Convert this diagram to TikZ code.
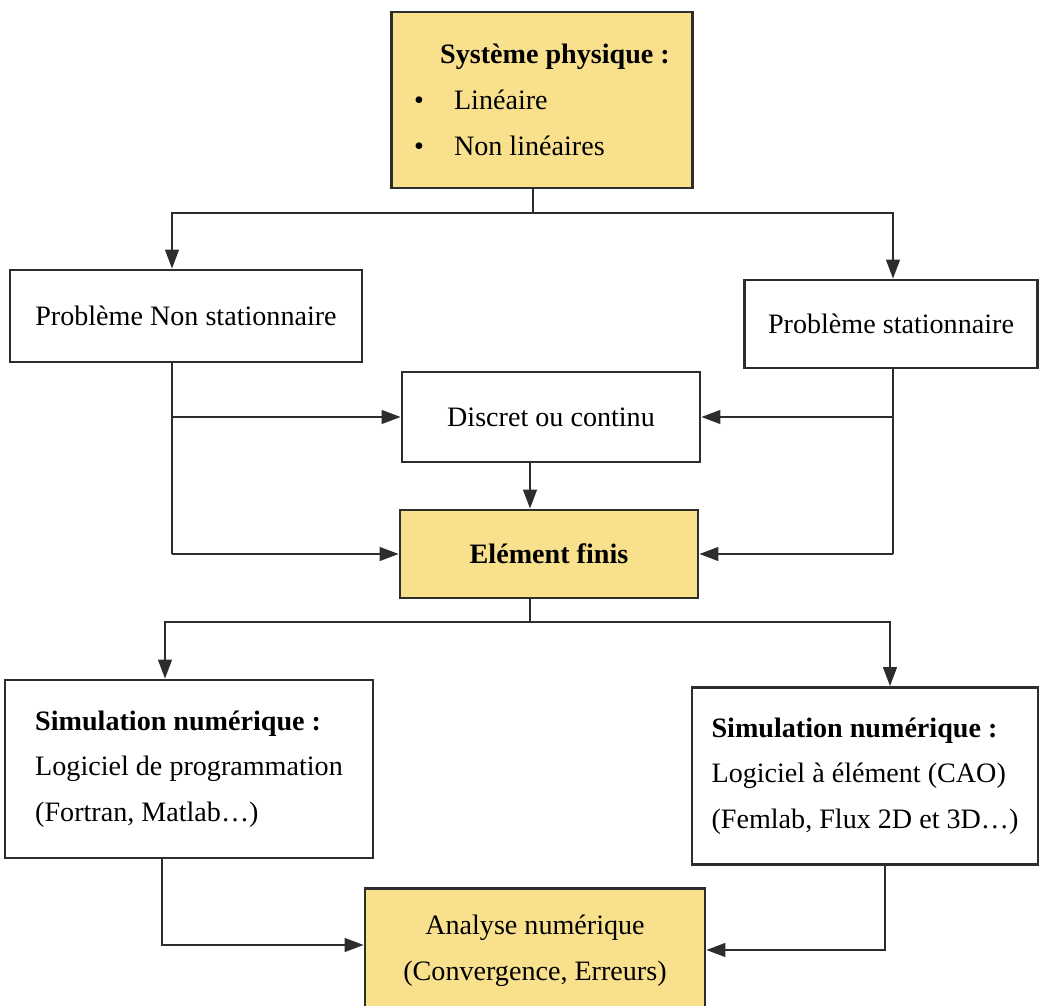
\documentclass[tikz,border=0pt]{standalone}
\usepackage{fontspec}
\setmainfont{Liberation Serif}
\usepackage{tikz}
\usetikzlibrary{arrows.meta}
\definecolor{boxyellow}{RGB}{248,224,140}
\definecolor{linegray}{RGB}{45,45,45}
\tikzstyle{process} = [rectangle, draw=linegray, line width=1.5pt, inner sep=0pt, align=left, font=\fontsize{16}{26}\selectfont]
\tikzstyle{keybox} = [process, fill=boxyellow]
\tikzstyle{link} = [draw=linegray, line width=1.5pt]
\tikzstyle{arrow} = [link, -{Triangle[length=0.38cm,width=0.27cm]}]

\begin{document}
\begin{tikzpicture}[x=0.02cm, y=-0.02cm]
            \useasboundingbox (0,0) rectangle (1042,1006);

            \node (systeme) [keybox, minimum width=6.02cm, minimum height=3.52cm] at (542,100) {\hspace*{0.52cm}\textbf{Système physique :}\\ \textbullet\hspace{0.6cm}Linéaire\\ \textbullet\hspace{0.6cm}Non linéaires};
            \node (nonstat) [process, minimum width=7.04cm, minimum height=1.84cm] at (186,316) {Problème Non stationnaire};
            \node (stat) [process, minimum width=5.86cm, minimum height=1.76cm] at (891,324) {Problème stationnaire};
            \node (discret) [process, minimum width=5.96cm, minimum height=1.8cm] at (551,417) {Discret ou continu};
            \node (finis) [keybox, minimum width=5.96cm, minimum height=1.76cm] at (549,554) {\textbf{Elément finis}};
            \node (simprog) [process, minimum width=7.36cm, minimum height=3.56cm] at (189,769) {\textbf{Simulation numérique :}\\ Logiciel de programmation\\ (Fortran, Matlab\ldots)};
            \node (simcao) [process, minimum width=6.92cm, minimum height=3.54cm] at (865,776) {\textbf{Simulation numérique :}\\ Logiciel à élément (CAO)\\ (Femlab, Flux 2D et 3D\ldots)};
            \node (analyse) [keybox, align=center, minimum width=6.8cm, minimum height=2.5cm] at (535,951) {Analyse numérique\\ (Convergence, Erreurs)};

            \coordinate (haut) at (533,213);
            \coordinate (gauche) at (172,213);
            \coordinate (droite) at (893,213);
            \coordinate (milieu) at (530,622);
            \coordinate (gauche-bas) at (165,622);
            \coordinate (droite-bas) at (890,622);
            \coordinate (retour-gauche) at (162,945);
            \coordinate (retour-droite) at (885,950);

            \draw [link] (systeme.south -| haut) -- (haut);
            \draw [arrow] (haut) -- (gauche) -- (gauche |- nonstat.north);
            \draw [arrow] (haut) -- (droite) -- (droite |- stat.north);
            \draw [link] (nonstat.south -| gauche) -- (gauche |- finis.west);
            \draw [arrow] (gauche |- discret.west) -- (discret.west);
            \draw [arrow] (gauche |- finis.west) -- (finis.west);
            \draw [link] (stat.south -| droite) -- (droite |- finis.east);
            \draw [arrow] (droite |- discret.east) -- (discret.east);
            \draw [arrow] (droite |- finis.east) -- (finis.east);
            \draw [arrow] (discret.south -| milieu) -- (finis.north -| milieu);
            \draw [link] (finis.south -| milieu) -- (milieu);
            \draw [arrow] (milieu) -- (gauche-bas) -- (gauche-bas |- simprog.north);
            \draw [arrow] (milieu) -- (droite-bas) -- (droite-bas |- simcao.north);
            \draw [arrow] (simprog.south -| retour-gauche) -- (retour-gauche) -- (analyse.west |- retour-gauche);
            \draw [arrow] (simcao.south -| retour-droite) -- (retour-droite) -- (analyse.east |- retour-droite);
        \end{tikzpicture}
\end{document}
